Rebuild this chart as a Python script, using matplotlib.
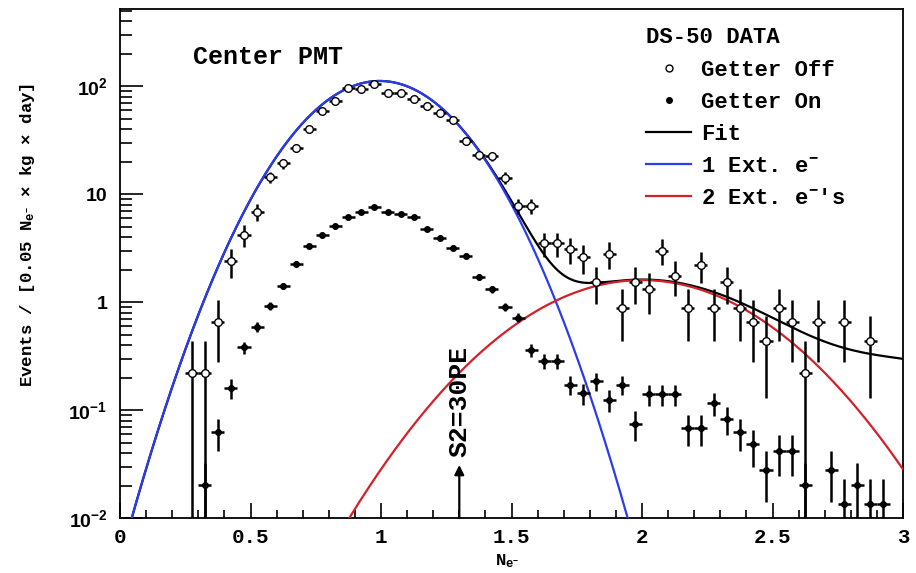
import numpy as np
import matplotlib
matplotlib.use("Agg")
import matplotlib.pyplot as plt
from matplotlib.lines import Line2D
from matplotlib.ticker import FixedLocator, LogLocator, NullFormatter
from matplotlib.font_manager import FontProperties

plt.rcParams["mathtext.fontset"] = "custom"
plt.rcParams["mathtext.rm"] = "Liberation Sans:bold"
plt.rcParams["mathtext.bf"] = "Liberation Sans:bold"
plt.rcParams["mathtext.it"] = "Liberation Sans:bold"
plt.rcParams["mathtext.tt"] = "Liberation Mono:bold"

# getter off spectrum (bin centres, rate, stat. error)
x_off = [0.275, 0.325, 0.375, 0.425, 0.475, 0.525, 0.575, 0.625, 0.675, 0.725,
         0.775, 0.825, 0.875, 0.925, 0.975, 1.025, 1.075, 1.125, 1.175, 1.225,
         1.275, 1.325, 1.375, 1.425, 1.475, 1.525, 1.575, 1.625, 1.675, 1.725,
         1.775, 1.825, 1.875, 1.925, 1.975, 2.025, 2.075, 2.125, 2.175, 2.225,
         2.275, 2.325, 2.375, 2.425, 2.475, 2.525, 2.575, 2.625, 2.675, 2.775,
         2.875]
y_off = [0.22, 0.22, 0.66, 2.4, 4.18, 6.9, 14.4, 19.3, 26.8, 40,
         59, 73, 97, 94, 106, 87, 87, 77, 66, 56,
         49, 31, 23, 22.5, 14.2, 7.8, 7.8, 3.5, 3.5, 3.1,
         2.6, 1.54, 2.8, 0.88, 1.54, 1.32, 3.0, 1.76, 0.88, 2.2,
         0.88, 1.54, 0.88, 0.66, 0.44, 0.88, 0.66, 0.22, 0.66, 0.66,
         0.44]
err_off = [0.22, 0.22, 0.38, 0.73, 0.96, 1.23, 1.78, 2.06, 2.43, 2.97,
           3.6, 4.0, 4.62, 4.55, 4.83, 4.37, 4.37, 4.12, 3.81, 3.51,
           3.28, 2.61, 2.25, 2.22, 1.77, 1.31, 1.31, 0.88, 0.88, 0.83,
           0.76, 0.58, 0.78, 0.44, 0.58, 0.54, 0.81, 0.62, 0.44, 0.70,
           0.44, 0.58, 0.44, 0.38, 0.31, 0.44, 0.38, 0.22, 0.38, 0.38,
           0.31]

# getter on spectrum
x_on = [0.325, 0.375, 0.425, 0.475, 0.525, 0.575, 0.625, 0.675, 0.725, 0.775,
        0.825, 0.875, 0.925, 0.975, 1.025, 1.075, 1.125, 1.175, 1.225, 1.275,
        1.325, 1.375, 1.425, 1.475, 1.525, 1.575, 1.625, 1.675, 1.725, 1.775,
        1.825, 1.875, 1.925, 1.975, 2.025, 2.075, 2.125, 2.175, 2.225, 2.275,
        2.325, 2.375, 2.425, 2.475, 2.525, 2.575, 2.625, 2.725, 2.775, 2.825,
        2.875, 2.925]
y_on = [0.0204, 0.062, 0.16, 0.38, 0.59, 0.92, 1.41, 2.28, 3.3, 4.2,
        5.1, 6.1, 6.9, 7.6, 6.8, 6.6, 6.1, 4.8, 3.9, 3.2,
        2.7, 1.7, 1.31, 0.905, 0.72, 0.36, 0.285, 0.285, 0.171, 0.143,
        0.184, 0.124, 0.171, 0.075, 0.141, 0.141, 0.141, 0.068, 0.068, 0.116,
        0.083, 0.062, 0.048, 0.0277, 0.0415, 0.0415, 0.0204, 0.0277, 0.0136, 0.0204,
        0.0136, 0.0136]
err_on = [0.0118, 0.0205, 0.033, 0.051, 0.063, 0.079, 0.098, 0.125, 0.15, 0.169,
          0.186, 0.204, 0.217, 0.227, 0.215, 0.212, 0.204, 0.181, 0.163, 0.148,
          0.135, 0.108, 0.094, 0.078, 0.07, 0.049, 0.044, 0.044, 0.034, 0.031,
          0.035, 0.029, 0.034, 0.023, 0.031, 0.031, 0.031, 0.0215, 0.0215, 0.028,
          0.024, 0.0205, 0.018, 0.0137, 0.0168, 0.0168, 0.0118, 0.0137, 0.0096, 0.0118,
          0.0096, 0.0096]

BIN_HALF = 0.025

# fitted components: (amplitude, mean, sigma)
one_e = (112.0, 0.995, 0.22)
two_e = (1.6, 2.0, 0.352)
three_e = (0.27, 3.0, 0.42)

x_ticks = [0, 0.5, 1, 1.5, 2, 2.5, 3]
x_ticklabels = ["0", "0.5", "1", "1.5", "2", "2.5", "3"]
y_ticks = [0.01, 0.1, 1, 10, 100]
y_ticklabels = ["10$^{-2}$", "10$^{-1}$", "1", "10", "10$^{2}$"]


def gauss(x, pars):
    a, m, s = pars
    return a * np.exp(-0.5 * ((x - m) / s) ** 2)


mono = FontProperties(family="Liberation Mono", weight="bold", size=16)
sans = FontProperties(family="Liberation Sans", weight="bold", size=14)

fig = plt.figure(figsize=(9.16, 5.73), dpi=100)
ax = fig.add_axes([120 / 916, 55 / 573, 783 / 916, 509 / 573])
ax.set_yscale("log")
ax.set_xlim(0, 3)
ax.set_ylim(0.01, 520)

xs = np.linspace(0, 3, 800)
f1 = gauss(xs, one_e)
f2 = gauss(xs, two_e)
f3 = gauss(xs, three_e)
ax.plot(xs, f1 + f2 + f3, color="black", lw=1.6, zorder=2)
ax.plot(xs, f1, color="#2a3cf0", lw=1.6, zorder=3)
ax.plot(xs, f2, color="#d3202a", lw=1.6, zorder=3)

ax.errorbar(x_on, y_on, xerr=BIN_HALF, yerr=err_on, fmt="o", ms=4,
            mfc="black", mec="black", ecolor="black", elinewidth=1.8,
            capsize=0, zorder=4)
ax.errorbar(x_off, y_off, xerr=BIN_HALF, yerr=err_off, fmt="o", ms=5.5,
            mfc="white", mec="black", mew=1.0, ecolor="black", elinewidth=1.8,
            capsize=0, zorder=5)

# S2 threshold marker
ax.annotate("", xy=(1.3, 0.031), xytext=(1.3, 0.01),
            arrowprops=dict(arrowstyle="-|>", lw=1.6, color="black",
                            mutation_scale=14, shrinkA=0, shrinkB=0))
ax.text(1.3, 0.037, "S2=30PE", rotation=90, ha="center", va="bottom",
        fontproperties=FontProperties(family="Liberation Mono", weight="bold", size=19))

ax.text(0.093, 0.929, "Center PMT", transform=ax.transAxes, va="top", ha="left",
        fontproperties=FontProperties(family="Liberation Mono", weight="bold", size=18))

# ticks
ax.xaxis.set_major_locator(FixedLocator(x_ticks))
ax.xaxis.set_minor_locator(FixedLocator(np.arange(0, 3.001, 0.1)))
ax.set_xticklabels(x_ticklabels)
ax.yaxis.set_major_locator(FixedLocator(y_ticks))
ax.yaxis.set_minor_locator(LogLocator(base=10, subs=np.arange(2, 10)))
ax.yaxis.set_minor_formatter(NullFormatter())
ax.set_yticklabels(y_ticklabels)
ax.tick_params(which="both", direction="in", top=False, right=False, width=1.2)
ax.tick_params(axis="x", which="major", length=11, pad=7)
ax.tick_params(axis="x", which="minor", length=5.5)
ax.tick_params(axis="y", which="major", length=16.5, pad=9)
ax.tick_params(axis="y", which="minor", length=8.5)
for lab in ax.get_xticklabels():
    lab.set_fontproperties(FontProperties(family="Liberation Mono", weight="bold", size=15))
for lab in ax.get_yticklabels():
    lab.set_fontproperties(sans)
for sp in ax.spines.values():
    sp.set_linewidth(1.3)

fig.text(28 / 916, 1 - 235 / 573,
         "Events / [0.05 N$_{\\mathtt{e}^{\\mathtt{-}}}$ \u00d7 kg \u00d7 day]",
         rotation=90, ha="center", va="center",
         fontproperties=FontProperties(family="Liberation Mono", weight="bold", size=12.5))
fig.text(507 / 916, 1 - 561 / 573, "N$_{\\mathtt{e}^{\\mathtt{-}}}$",
         ha="center", va="center",
         fontproperties=FontProperties(family="Liberation Mono", weight="bold", size=12.5))

handles = [
    Line2D([], [], ls="none", marker="o", ms=5, mfc="white", mec="black", mew=1.0),
    Line2D([], [], ls="none", marker="o", ms=4, mfc="black", mec="black"),
    Line2D([], [], color="black", lw=1.6),
    Line2D([], [], color="#2a3cf0", lw=1.6),
    Line2D([], [], color="#d3202a", lw=1.6),
]
labels = ["Getter Off", "Getter On", "Fit", "1 Ext. e$^{\\mathtt{-}}$",
          "2 Ext. e$^{\\mathtt{-}}$'s"]
ax.legend(handles, labels, title="DS-50 DATA", prop=mono, title_fontproperties=mono,
          alignment="left", frameon=False, loc="upper left",
          bbox_to_anchor=(642 / 916, 1 - 23 / 573), bbox_transform=fig.transFigure,
          borderpad=0.2, borderaxespad=0, labelspacing=0.5, handlelength=2.0,
          handletextpad=0.45)

fig.savefig("out.png", dpi=100)
